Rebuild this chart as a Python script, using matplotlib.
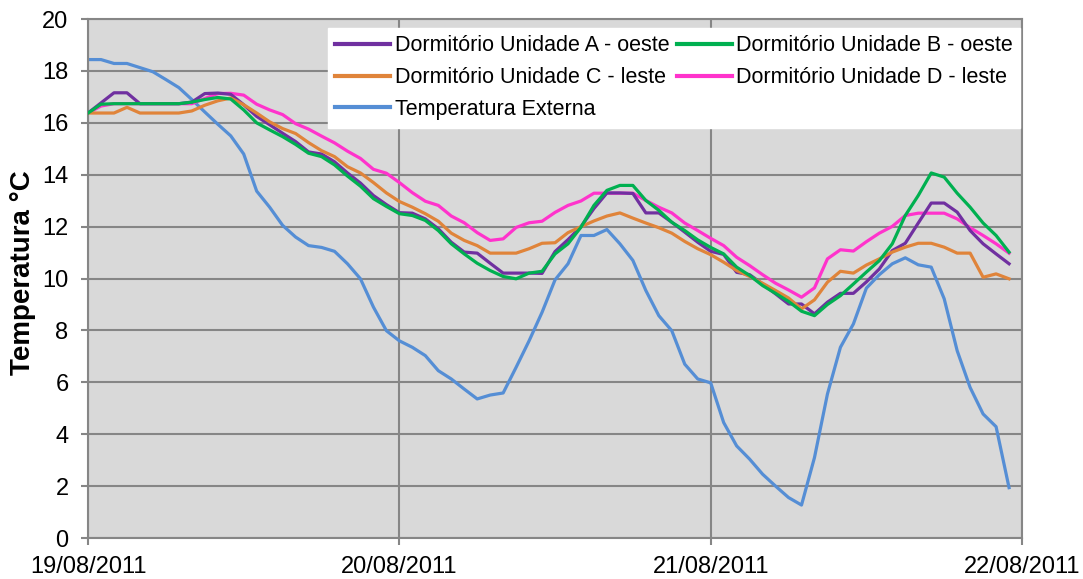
import matplotlib
matplotlib.use("Agg")
import matplotlib.pyplot as plt
import numpy as np

plt.rcParams['font.family'] = ['Liberation Sans', 'DejaVu Sans']

date_labels = ["19/08/2011", "20/08/2011", "21/08/2011", "22/08/2011"]
series_names = ["Dormitório Unidade A - oeste", "Dormitório Unidade C - leste",
                "Temperatura Externa", "Dormitório Unidade B - oeste",
                "Dormitório Unidade D - leste"]

unid_a = [16.38, 16.77, 17.16, 17.16, 16.74, 16.74, 16.74, 16.74, 16.8, 17.13, 17.15, 17.1,
          16.7, 16.25, 15.93, 15.6, 15.28, 14.88, 14.8, 14.5, 14.07, 13.68, 13.2, 12.85,
          12.54, 12.52, 12.3, 11.92, 11.4, 11.02, 10.98, 10.59, 10.21, 10.21, 10.21, 10.2,
          11.04, 11.5, 12.0, 12.7, 13.3, 13.3, 13.28, 12.53, 12.53, 12.17, 11.79, 11.4,
          11.05, 10.93, 10.24, 10.15, 9.79, 9.41, 9.02, 9.02, 8.64, 9.09, 9.43, 9.43,
          9.87, 10.37, 11.08, 11.36, 12.14, 12.91, 12.91, 12.56, 11.85, 11.34, 10.95, 10.57]

unid_b = [16.38, 16.72, 16.74, 16.74, 16.74, 16.74, 16.74, 16.74, 16.8, 16.9, 16.98, 16.92,
          16.5, 16.0, 15.73, 15.47, 15.17, 14.83, 14.7, 14.38, 13.95, 13.56, 13.08, 12.78,
          12.5, 12.43, 12.24, 11.85, 11.34, 10.95, 10.59, 10.31, 10.08, 9.99, 10.21, 10.28,
          10.95, 11.34, 11.98, 12.82, 13.4, 13.59, 13.59, 13.01, 12.63, 12.17, 11.85, 11.49,
          11.2, 10.95, 10.44, 10.12, 9.73, 9.43, 9.12, 8.74, 8.57, 9.0, 9.34, 9.79,
          10.25, 10.69, 11.34, 12.43, 13.2, 14.07, 13.91, 13.29, 12.75, 12.14, 11.66, 11.02]

unid_c = [16.38, 16.38, 16.38, 16.6, 16.38, 16.38, 16.38, 16.38, 16.46, 16.68, 16.85, 16.96,
          16.7, 16.38, 16.04, 15.78, 15.59, 15.24, 14.93, 14.7, 14.31, 14.07, 13.7, 13.3,
          12.97, 12.75, 12.5, 12.21, 11.75, 11.47, 11.27, 10.98, 10.98, 10.98, 11.15, 11.36,
          11.38, 11.77, 12.0, 12.22, 12.41, 12.53, 12.33, 12.14, 11.96, 11.75, 11.43, 11.15,
          10.92, 10.63, 10.31, 10.08, 9.82, 9.54, 9.25, 8.83, 9.18, 9.86, 10.28, 10.21,
          10.52, 10.76, 11.02, 11.21, 11.36, 11.36, 11.21, 10.98, 10.98, 10.05, 10.18, 9.99]

unid_d = [16.38, 16.65, 16.74, 16.74, 16.74, 16.74, 16.74, 16.74, 16.74, 16.94, 17.13, 17.14,
          17.07, 16.72, 16.5, 16.32, 15.97, 15.76, 15.49, 15.23, 14.91, 14.63, 14.21, 14.06,
          13.7, 13.31, 12.98, 12.82, 12.41, 12.15, 11.77, 11.47, 11.53, 11.97, 12.15, 12.21,
          12.55, 12.82, 12.99, 13.29, 13.29, 13.29, 13.29, 13.01, 12.75, 12.53, 12.14, 11.85,
          11.55, 11.27, 10.82, 10.5, 10.15, 9.82, 9.56, 9.28, 9.64, 10.76, 11.11, 11.06,
          11.42, 11.75, 12.01, 12.43, 12.52, 12.52, 12.52, 12.3, 11.96, 11.66, 11.34, 10.98]

externa = [18.44, 18.44, 18.29, 18.29, 18.13, 17.97, 17.67, 17.36, 16.9, 16.42, 15.95, 15.5,
           14.8, 13.37, 12.75, 12.05, 11.6, 11.27, 11.2, 11.05, 10.57, 9.99, 8.9, 7.99,
           7.6, 7.35, 7.03, 6.45, 6.13, 5.74, 5.36, 5.51, 5.59, 6.58, 7.6, 8.7,
           9.95, 10.57, 11.66, 11.66, 11.89, 11.34, 10.7, 9.54, 8.57, 7.99, 6.7, 6.13,
           5.98, 4.45, 3.55, 3.04, 2.46, 2.0, 1.56, 1.27, 3.1, 5.55, 7.35, 8.25,
           9.63, 10.15, 10.57, 10.8, 10.53, 10.44, 9.22, 7.22, 5.8, 4.78, 4.29, 1.94]

hours = np.arange(len(externa)) / 24.0

fig = plt.figure(figsize=(10.83, 5.79), dpi=100)
ax = fig.add_axes([0.0813, 0.0708, 0.8624, 0.8962])
ax.set_facecolor('#D9D9D9')

lw = 2.3
la, = ax.plot(hours, unid_a, color='#7030A0', lw=lw, zorder=3)
lc, = ax.plot(hours, unid_c, color='#E0843A', lw=lw, zorder=3)
le, = ax.plot(hours, externa, color='#558ED5', lw=lw, zorder=2)
lb, = ax.plot(hours, unid_b, color='#00B050', lw=lw, zorder=3)
ld, = ax.plot(hours, unid_d, color='#FF33CC', lw=lw, zorder=2.5)

ax.set_xlim(0, 3)
ax.set_ylim(0, 20)
ax.set_yticks(np.arange(0, 21, 2))
ax.set_xticks(range(len(date_labels)))
ax.set_xticklabels(date_labels)
ax.grid(True, color='#868686', lw=1.5)
ax.set_axisbelow(True)
for s in ax.spines.values():
    s.set_color('#868686')
    s.set_linewidth(1.5)
ax.tick_params(axis='both', colors='#868686', labelcolor='black', labelsize=17,
               length=5, width=1.5)
ax.tick_params(axis='y', pad=9)
ax.tick_params(axis='x', pad=8)
ax.set_ylabel('Temperatura °C', fontsize=20, fontweight='bold')
ax.yaxis.set_label_coords(-0.056, 0.512)

leg = ax.legend([la, lc, le, lb, ld], series_names, ncol=2, loc='upper right',
                bbox_to_anchor=(0.998, 0.983), fontsize=15.5, frameon=True,
                fancybox=False, edgecolor='white', facecolor='white', framealpha=1,
                handlelength=2.55, columnspacing=0.35, handletextpad=0.2,
                labelspacing=0.5, borderaxespad=0.0, borderpad=0.35)
for h in leg.get_lines():
    h.set_linewidth(3)
leg.set_zorder(5)

fig.savefig('out.png', dpi=100)
